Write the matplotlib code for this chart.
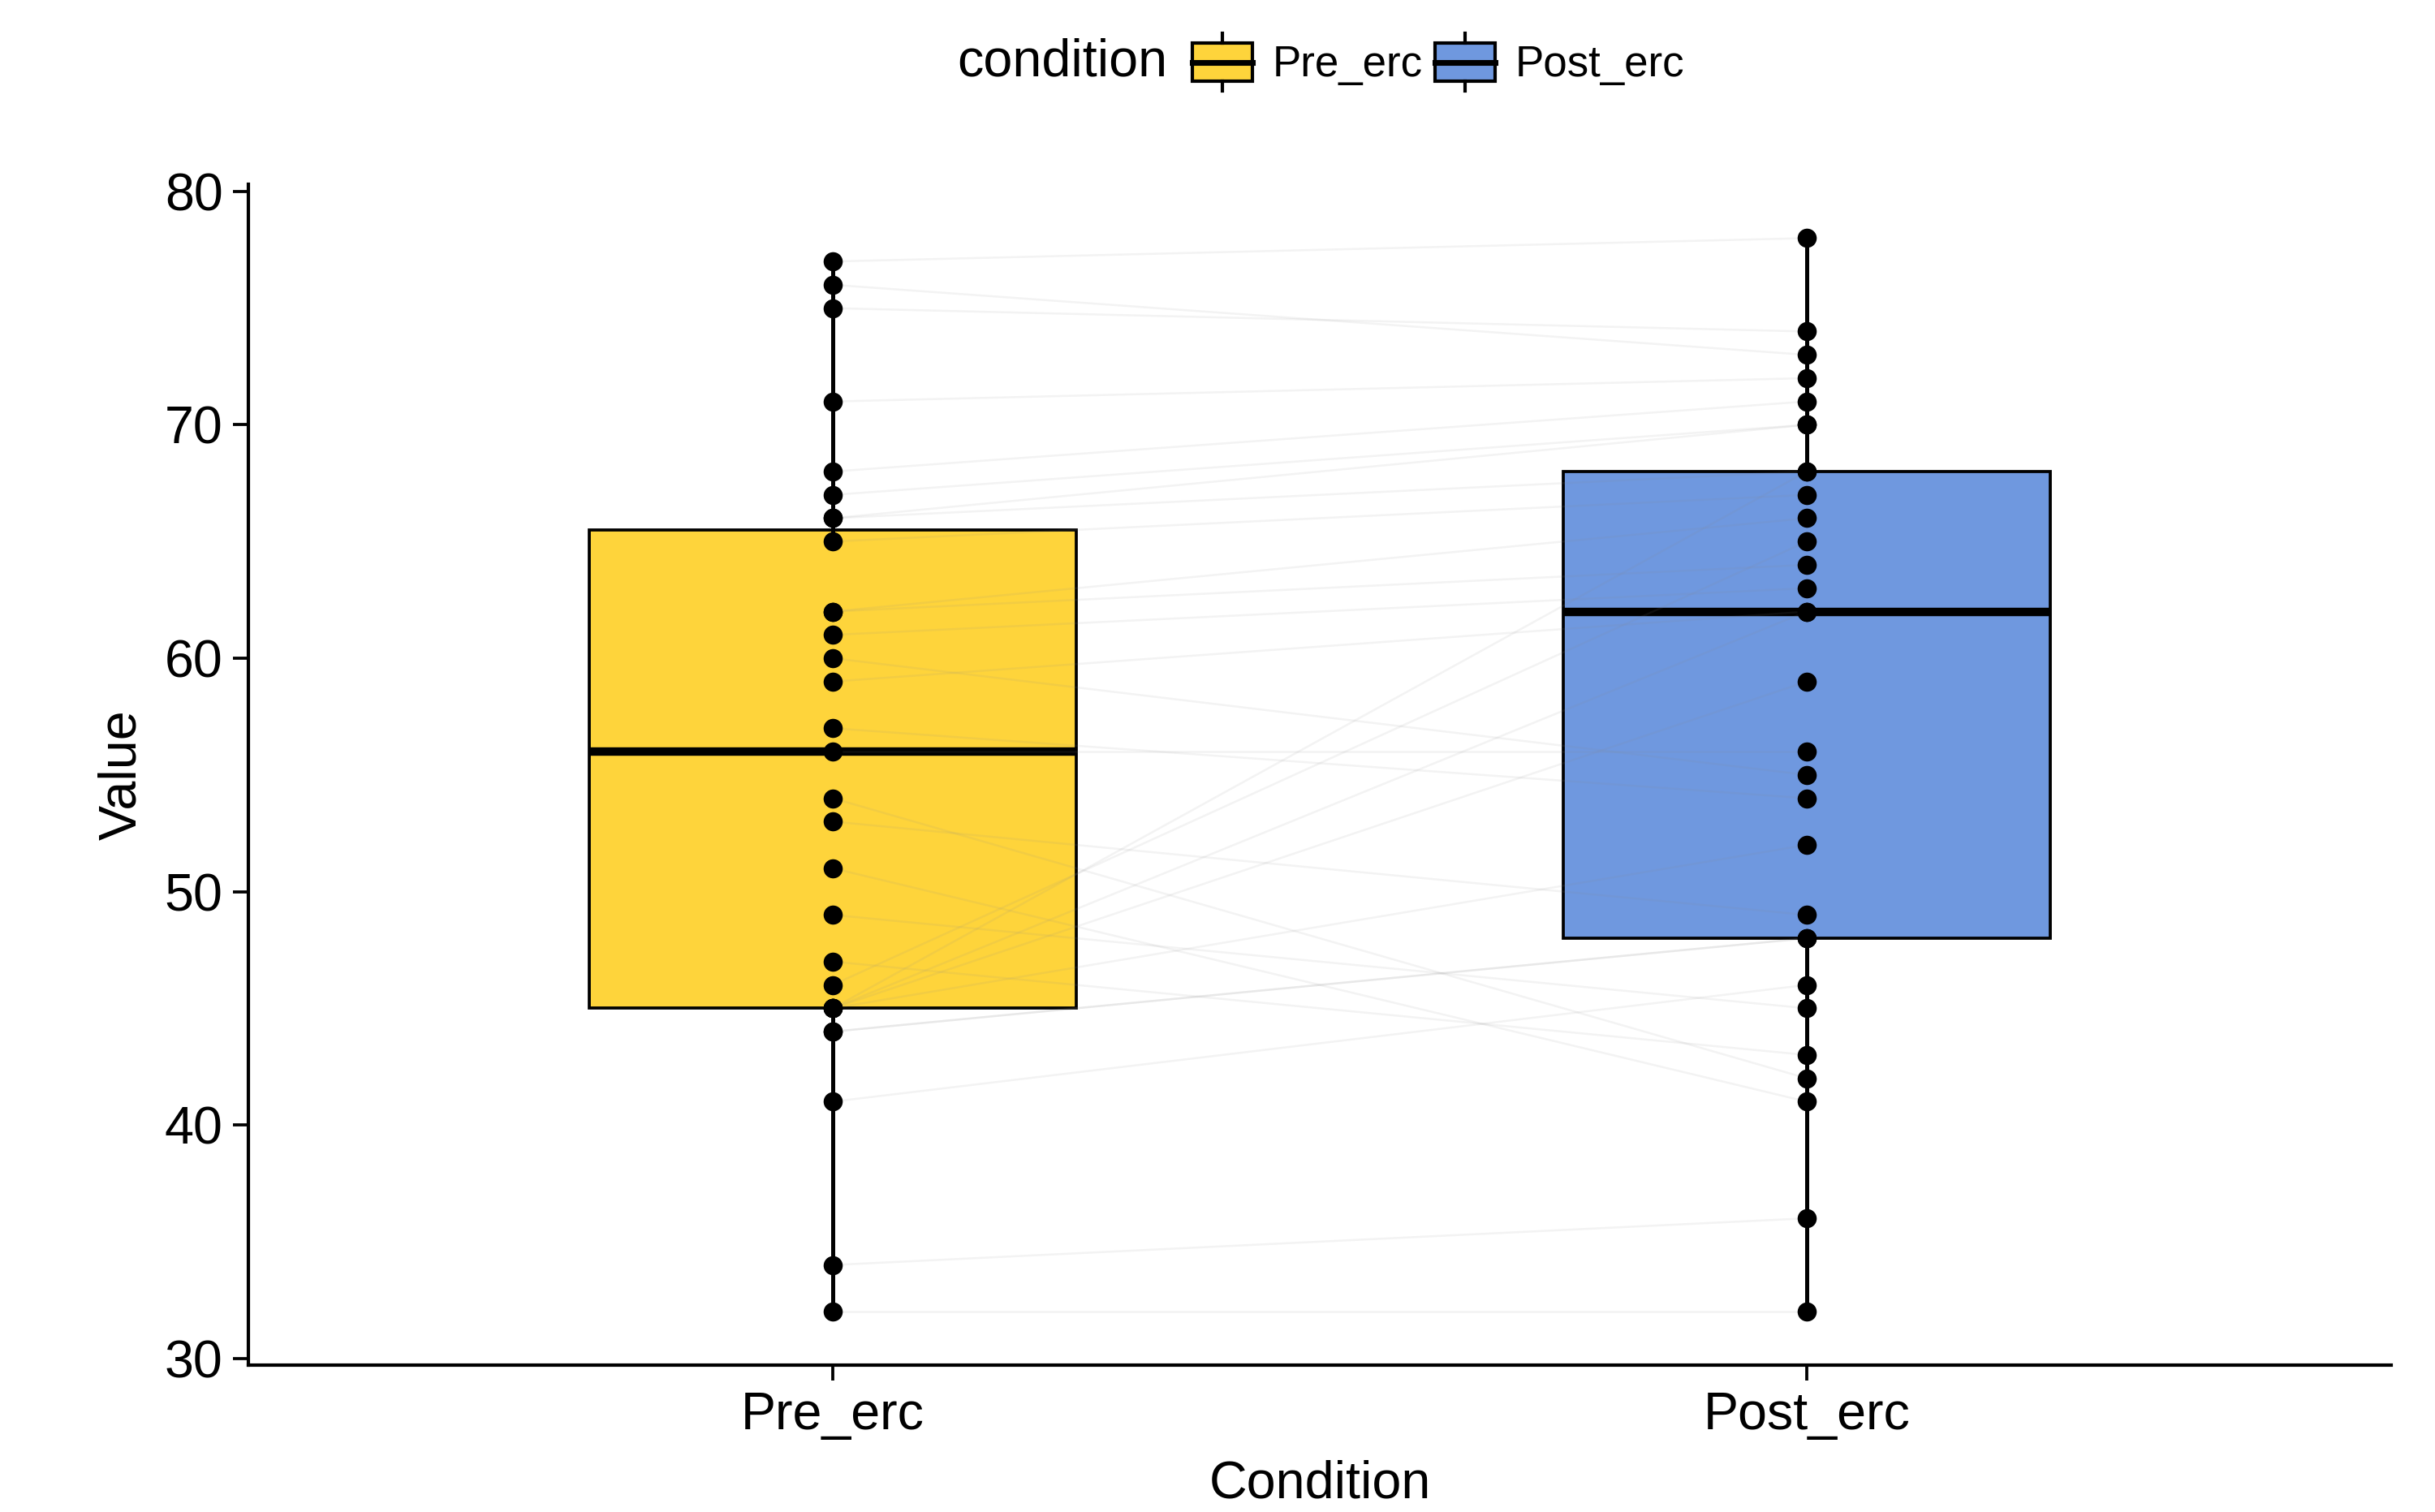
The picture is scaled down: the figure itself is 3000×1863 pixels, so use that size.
import matplotlib
matplotlib.use('Agg')
import numpy as np
import matplotlib.pyplot as plt
from matplotlib.patches import Rectangle
from matplotlib.lines import Line2D
from matplotlib.legend_handler import HandlerBase

plt.rcParams['font.family'] = ['Liberation Sans', 'DejaVu Sans']

# valores (pareados: pre_erc[i] <-> post_erc[i])
conditions = ['Pre_erc', 'Post_erc']
pre_erc = [77, 76, 75, 71, 68, 67, 66, 66, 65, 62, 62, 61, 60, 59, 57, 56,
           54, 53, 51, 49, 47, 46, 45, 45, 45, 45, 44, 44, 41, 34, 32]
post_erc = [78, 73, 74, 72, 71, 70, 70, 68, 67, 66, 64, 63, 55, 62, 54, 56,
            42, 49, 41, 45, 43, 65, 62, 68, 59, 52, 48, 48, 46, 36, 32]
box_colors = ['#FED43B', '#6F98DF']
y_ticks = [30, 40, 50, 60, 70, 80]


class BoxKeyHandler(HandlerBase):
    # dibuja la llave de la leyenda como una mini caja con bigotes
    def create_artists(self, legend, orig_handle, xdescent, ydescent,
                       width, height, fontsize, trans):
        x0, y0 = -xdescent, -ydescent
        rect = Rectangle((x0, y0 + 0.17 * height), width, 0.66 * height,
                         facecolor=orig_handle.get_facecolor(),
                         edgecolor='black', lw=1.0, transform=trans)
        med = Line2D([x0, x0 + width], [y0 + 0.5 * height] * 2,
                     color='black', lw=1.7, transform=trans)
        wt = Line2D([x0 + width / 2] * 2, [y0 + 0.83 * height, y0 + height],
                    color='black', lw=1.0, transform=trans)
        wb = Line2D([x0 + width / 2] * 2, [y0, y0 + 0.17 * height],
                    color='black', lw=1.0, transform=trans)
        return [rect, med, wt, wb]


fig = plt.figure(figsize=(10, 6.21), dpi=300)
ax = fig.add_axes([0.102, 0.097, 0.880, 0.781])

positions = [1, 2]
bp = ax.boxplot([pre_erc, post_erc], positions=positions, widths=0.5,
                patch_artist=True, showcaps=False, showfliers=False,
                medianprops=dict(color='black', linewidth=2.5),
                boxprops=dict(edgecolor='black', linewidth=0.9),
                whiskerprops=dict(color='black', linewidth=1.2),
                zorder=1)
for patch, c in zip(bp['boxes'], box_colors):
    patch.set_facecolor(c)

# lineas que unen cada par
for a, b in zip(pre_erc, post_erc):
    ax.plot([1, 2], [a, b], color='#8a8a8a', alpha=0.1, lw=0.6, zorder=2)

ax.scatter(np.full(len(pre_erc), 1), pre_erc, s=32, color='black', zorder=4, lw=0)
ax.scatter(np.full(len(post_erc), 2), post_erc, s=32, color='black', zorder=4, lw=0)

ax.set_xlim(0.4, 2.6)
ax.set_ylim(29.7, 80.3)
ax.set_yticks(y_ticks)
ax.set_xticks(positions)
ax.set_xticklabels(conditions)

for s in ['top', 'right']:
    ax.spines[s].set_visible(False)
for s in ['left', 'bottom']:
    ax.spines[s].set_linewidth(1.0)
ax.tick_params(length=4.5, width=0.9, labelsize=15.5, pad=3, colors='black')

ax.set_xlabel('Condition', fontsize=15.5, labelpad=6)
ax.set_ylabel('Value', fontsize=15.5, labelpad=5.5)

handles = [Rectangle((0, 0), 1, 1, facecolor=c) for c in box_colors]
fig.legend(handles, conditions, loc='center left',
           bbox_to_anchor=(768 / 1568, 1 - 40 / 974), ncol=2, frameon=False,
           fontsize=12.7, handlelength=1.4, handleheight=1.7,
           handletextpad=0.45, columnspacing=0.3, borderpad=0,
           borderaxespad=0, handler_map={Rectangle: BoxKeyHandler()})
fig.text(752 / 1568, 1 - 40 / 974, 'condition', ha='right', va='center',
         fontsize=15.5)

fig.savefig('out.png', dpi=300)
